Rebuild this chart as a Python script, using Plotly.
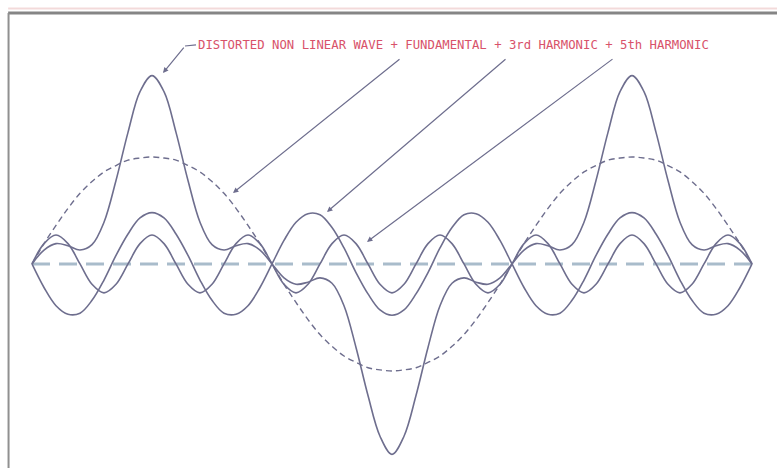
import plotly.graph_objects as go

# Ângulo da fundamental (graus), 1,5 ciclo
angulo = list(range(0, 541, 9))

# Valores (amplitude da fundamental = 1)
fundamental = [
    0, .19, .36, .52, .66, .77, .86, .92, .97, .99, 1, .99, .97, .92, .86, .77, .66, .52, .36, .19, 0,
    -.19, -.36, -.52, -.66, -.77, -.86, -.92, -.97, -.99, -1, -.99, -.97, -.92, -.86, -.77, -.66, -.52, -.36, -.19, 0,
    .19, .36, .52, .66, .77, .86, .92, .97, .99, 1, .99, .97, .92, .86, .77, .66, .52, .36, .19, 0,
]
terceira = [
    0, -.22, -.39, -.47, -.46, -.34, -.15, .08, .28, .43, .48, .43, .28, .08, -.15, -.34, -.46, -.47, -.39, -.22, 0,
    .22, .39, .47, .46, .34, .15, -.08, -.28, -.43, -.48, -.43, -.28, -.08, .15, .34, .46, .47, .39, .22, 0,
    -.22, -.39, -.47, -.46, -.34, -.15, .08, .28, .43, .48, .43, .28, .08, -.15, -.34, -.46, -.47, -.39, -.22, 0,
]
quinta = [
    0, .19, .27, .19, 0, -.19, -.27, -.19, 0, .19, .27, .19, 0, -.19, -.27, -.19, 0, .19, .27, .19, 0,
    -.19, -.27, -.19, 0, .19, .27, .19, 0, -.19, -.27, -.19, 0, .19, .27, .19, 0, -.19, -.27, -.19, 0,
    .19, .27, .19, 0, -.19, -.27, -.19, 0, .19, .27, .19, 0, -.19, -.27, -.19, 0, .19, .27, .19, 0,
]
distorcida = [
    0, .13, .19, .17, .13, .18, .39, .78, 1.23, 1.61, 1.76, 1.61, 1.23, .78, .39, .18, .13, .17, .19, .13, 0,
    -.13, -.19, -.17, -.13, -.18, -.39, -.78, -1.23, -1.61, -1.78, -1.61, -1.23, -.78, -.39, -.18, -.13, -.17, -.19, -.13, 0,
    .13, .19, .17, .13, .18, .39, .78, 1.23, 1.61, 1.76, 1.61, 1.23, .78, .39, .18, .13, .17, .19, .13, 0,
]
eixo_x = [0, 540]
eixo_y = [0, 0]

titulo = "DISTORTED NON LINEAR WAVE + FUNDAMENTAL + 3rd HARMONIC + 5th HARMONIC"

cor = '#6e6e8e'
vermelho = '#d8526a'

fig = go.Figure()

# linha de zero (tracejado azul claro)
fig.add_trace(go.Scatter(x=eixo_x, y=eixo_y, mode='lines',
                         line=dict(color='#a9bccb', width=3, dash='18px,9px')))

fig.add_trace(go.Scatter(x=angulo, y=fundamental, mode='lines',
                         line=dict(color=cor, width=1.4, dash='6px,4px', shape='spline')))
for serie in [terceira, quinta, distorcida]:
    fig.add_trace(go.Scatter(x=angulo, y=serie, mode='lines',
                             line=dict(color=cor, width=1.6, shape='spline')))

# texto e setas de chamada
fig.add_annotation(x=315.75, y=2.047, text=titulo, showarrow=False,
                   font=dict(family='DejaVu Sans Mono', size=12.3, color=vermelho),
                   xanchor='center', yanchor='middle')

setas = [
    # (cauda x, cauda y, ponta x, ponta y)
    (114.75, 2.037, 98.25, 1.785),
    (276.75, 1.925, 150.75, 0.664),
    (356.25, 1.925, 221.25, 0.486),
    (436.5, 1.925, 251.25, 0.206),
]
for ax, ay, x, y in setas:
    fig.add_annotation(x=x, y=y, ax=ax, ay=ay, axref='x', ayref='y',
                       showarrow=True, arrowhead=2, arrowsize=0.9,
                       arrowwidth=1.2, arrowcolor=cor, text='')
fig.add_shape(type='line', x0=114.75, y0=2.037, x1=123, y1=2.047,
              line=dict(color=cor, width=1.2))

# moldura do desenho
fig.add_shape(type='line', xref='paper', yref='paper', x0=0.0105, y0=0.972, x1=1, y1=0.972,
              line=dict(color='#858585', width=3))
fig.add_shape(type='line', xref='paper', yref='paper', x0=0.011, y0=0, x1=0.011, y1=0.972,
              line=dict(color='#909090', width=2))
fig.add_shape(type='line', xref='paper', yref='paper', x0=0.0105, y0=0.982, x1=1, y1=0.982,
              line=dict(color='rgba(220,150,150,0.35)', width=2))

fig.update_layout(
    width=777, height=468,
    margin=dict(l=0, r=0, t=0, b=0),
    plot_bgcolor='white', paper_bgcolor='white',
    showlegend=False,
    xaxis=dict(range=[-24, 558.75], visible=False),
    yaxis=dict(range=[-1.907, 2.467], visible=False),
)

fig.write_html("out.html", config={'displayModeBar': False},
               post_script="document.body.style.margin='0px';")
